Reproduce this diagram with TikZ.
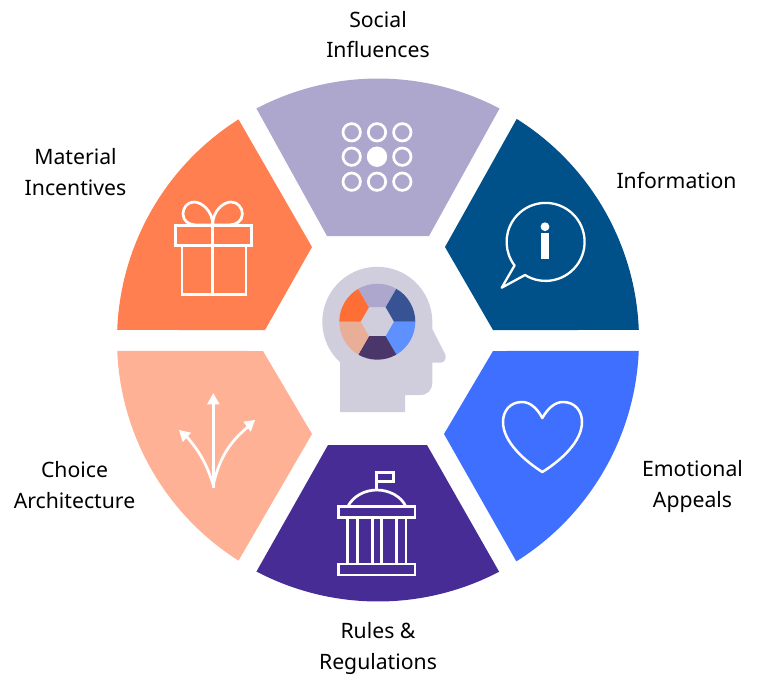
\documentclass[tikz,border=0pt]{standalone}
\usepackage{fontspec}
\setmainfont{Noto Sans}
\definecolor{cSocial}{HTML}{ADA7CE}
\definecolor{cInfo}{HTML}{00518A}
\definecolor{cEmo}{HTML}{3F6FFF}
\definecolor{cRules}{HTML}{482C96}
\definecolor{cChoice}{HTML}{FFB196}
\definecolor{cMat}{HTML}{FF7F50}
\definecolor{cHead}{HTML}{D0CEDC}
\definecolor{mOrange}{HTML}{FF6E35}
\definecolor{mNavy}{HTML}{375393}
\definecolor{mBlue}{HTML}{5F90FF}
\definecolor{mDark}{HTML}{4A3668}
\definecolor{mPeach}{HTML}{E9AE98}
\tikzset{
  icon/.style={draw=white,line width=2.7pt,line join=miter,fill=none},
  thinicon/.style={draw=white,line width=2.3pt,line join=round,fill=none},
  label/.style={align=center,inner sep=0pt,text=black,font=\fontsize{21.2}{30.8}\selectfont},
}
\begin{document}
\begin{tikzpicture}[x=1pt,y=-1pt]
\useasboundingbox (0,0) rectangle (757,675);
% wheel segments
\fill[cSocial] ([shift={(378,340)}]242.3:261.5) arc[start angle=242.3,end angle=297.7,radius=261.5] -- (429,236) -- (327,236) -- cycle;
\fill[cInfo] ([shift={(378,340)}]-57.9:261) arc[start angle=-57.9,end angle=-2.2,radius=261] -- (493,330) -- (445,247) -- cycle;
\fill[cEmo] ([shift={(378,340)}]2.4:261) arc[start angle=2.4,end angle=58,radius=261] -- (444,434) -- (493,351) -- cycle;
\fill[cRules] ([shift={(378,340)}]62.4:261.5) arc[start angle=62.4,end angle=117.7,radius=261.5] -- (328,445) -- (427,445) -- cycle;
\fill[cChoice] ([shift={(378,340)}]122.3:261) arc[start angle=122.3,end angle=177.6,radius=261] -- (263,351) -- (312,434) -- cycle;
\fill[cMat] ([shift={(378,340)}]182.2:261) arc[start angle=182.2,end angle=237.7,radius=261] -- (312,247) -- (265,330) -- cycle;
% head
\fill[cHead] (340,412) -- (340,362.2) arc[start angle=132.7,end angle=360,radius=55]
  -- (432.3,329) -- (445.3,354.5) .. controls (446.5,358) and (445,362.7) .. (440.5,362.7) -- (432.3,362.7)
  -- (432.3,382) .. controls (432.3,390) and (428,395) .. (420,395) -- (405,395) -- (405,412) -- cycle;
\begin{scope}[shift={(377.3,321.7)}]
\foreach \a/\c in {0/mBlue,60/mDark,120/mPeach,180/mOrange,240/cSocial,300/mNavy}{
  \fill[\c] (\a:16.7) -- (\a:38) arc[start angle=\a,end angle=\a+60,radius=38] -- (\a+60:16.7) -- cycle;
}
\end{scope}
% dots icon
\foreach \x in {351.7,377,402.3}{\foreach \y in {132.3,156.7,181.7}{
  \draw[icon] (\x,\y) circle[radius=8.7];
}}
\fill[white] (377,156.7) circle[radius=10];
% gift icon
\draw[icon] (175.7,225.7) rectangle (251.7,245.3);
\draw[icon] (182,245.3) rectangle (246,294.3);
\draw[icon] (212.7,225.7) -- (212.7,294.3);
\draw[icon] (212.7,225) .. controls (212.7,210) and (201,202) .. (194,202) .. controls (187,202) and (183,208) .. (183,214) .. controls (183,221) and (189,225) .. (196,225) -- (229,225) .. controls (236,225) and (242.4,221) .. (242.4,214) .. controls (242.4,208) and (238,202) .. (231,202) .. controls (224,202) and (212.7,210) .. (212.7,225);
% info icon
\draw[thinicon] (501.7,287.7) -- (525,275) arc[start angle=121.9,end angle=-217.2,radius=39] -- cycle;
\fill[white] (545,226.7) circle[radius=4.4];
\fill[white] (541,233.3) rectangle (549.3,259);
% heart icon
\draw[thinicon,line width=2.5pt] (542.3,418) .. controls (537,408) and (530,402) .. (522,402) .. controls (510,402) and (503,411) .. (503,422) .. controls (503,442) and (525,461) .. (542.3,472) .. controls (560,461) and (582,442) .. (582,422) .. controls (582,411) and (575,402) .. (563,402) .. controls (555,402) and (548,408) .. (542.3,418) -- cycle;
% arrows icon
\draw[icon] (213.3,488.3) -- (213.3,402);
\fill[white] (213.3,393.3) -- (219.6,404.3) -- (207,404.3) -- cycle;
\draw[icon] (213.3,485) .. controls (207,465) and (200,452) .. (187,437);
\fill[white] (179,430) -- (191,432.7) -- (182.7,442) -- cycle;
\draw[icon] (213.3,485) .. controls (220,455) and (232,440) .. (249,426);
\fill[white] (255,420) -- (243.3,421.7) -- (250.7,431.7) -- cycle;
% building icon
\draw[icon] (376.7,490) -- (376.7,472.3) -- (393.3,472.3) -- (393.3,481.7) -- (376.7,481.7);
\draw[icon] (347.7,506.7) .. controls (353,496) and (365,490) .. (376.7,490) .. controls (389,490) and (401,496) .. (406,506.7);
\draw[icon] (338.3,506.7) rectangle (415,517.3);
\draw[icon] (338.3,564) rectangle (415,575);
\foreach \x in {347.7,357.7,372.7,381.7,396.7,406}{\draw[icon] (\x,517.3) -- (\x,564);}
% labels
\node[label] (social) at (378,34.5) {Social\\Influences};
\node[label] (info) at (676.5,180.5) {Information};
\node[label] (material) at (75.5,172) {Material\\Incentives};
\node[label] (choice) at (74.5,485) {Choice\\Architecture};
\node[label] (emotional) at (692.5,486.5) {Emotional\\Appeals};
\node[label] (rules) at (378,648.5) {Rules \&\\Regulations};
\end{tikzpicture}
\end{document}
